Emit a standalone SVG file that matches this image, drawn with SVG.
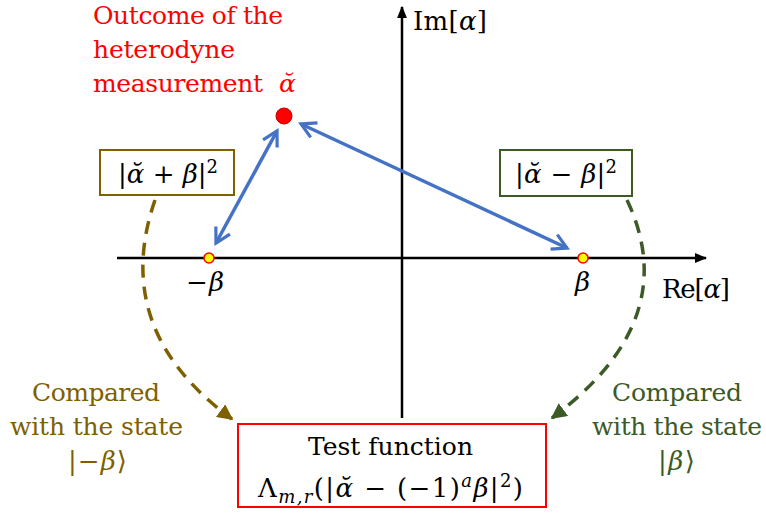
<svg xmlns="http://www.w3.org/2000/svg" width="766" height="513" viewBox="0 0 766 513">
<style>
text{font-family:"DejaVu Serif","Liberation Serif",serif;font-size:25px}
.m{font-size:26px}
.i{font-style:italic}
.red{fill:#ff0000}
.brn{fill:#7f6000}
.grn{fill:#3b5a26}
.axis{stroke:#000;stroke-width:2.5;fill:none}
.blue{stroke:#4472c4;stroke-width:3.5;fill:none;marker-start:url(#ba);marker-end:url(#ba)}
.pt{fill:#ffff00;stroke:#ff0000;stroke-width:1.5}
</style>
<defs>
<marker id="ax" viewBox="0 0 10 10" refX="9" refY="5" markerWidth="5" markerHeight="5" orient="auto" markerUnits="strokeWidth"><path d="M0,1 L10,5 L0,9 Z" fill="#000"/></marker>
<marker id="ba" viewBox="0 0 12 12" refX="10" refY="6" markerWidth="5.5" markerHeight="5.5" orient="auto-start-reverse" markerUnits="strokeWidth"><path d="M1,1 L10,6 L1,11" fill="none" stroke="#4472c4" stroke-width="2"/></marker>
<marker id="bra" viewBox="0 0 10 10" refX="9" refY="5" markerWidth="4.5" markerHeight="4.5" orient="auto" markerUnits="strokeWidth"><path d="M0,0 L10,5 L0,10 Z" fill="#7f6000"/></marker>
<marker id="gra" viewBox="0 0 10 10" refX="9" refY="5" markerWidth="4.5" markerHeight="4.5" orient="auto" markerUnits="strokeWidth"><path d="M0,0 L10,5 L0,10 Z" fill="#3b5a26"/></marker>
</defs>
<g id="axes">
<line class="axis" x1="402" y1="418" x2="402" y2="7" marker-end="url(#ax)"/>
<line class="axis" x1="117" y1="258" x2="706" y2="258" marker-end="url(#ax)"/>
<text class="m" x="413" y="30" textLength="74">Im[<tspan class="i">α</tspan>]</text>
<text class="m" x="662" y="298" textLength="68">Re[<tspan class="i">α</tspan>]</text>
<text class="m" x="186" y="291" textLength="38">−<tspan class="i">β</tspan></text>
<text class="m i" x="575" y="291">β</text>
</g>
<g id="connectors">
<line class="blue" x1="277" y1="131" x2="216" y2="243"/>
<line class="blue" x1="301" y1="124" x2="567" y2="248"/>
<path d="M155,200 Q110,330 232,419" fill="none" stroke="#7f6000" stroke-width="3.5" stroke-dasharray="13,9" marker-end="url(#bra)"/>
<path d="M627,200 Q684,320 552,418" fill="none" stroke="#3b5a26" stroke-width="3.5" stroke-dasharray="13,9" marker-end="url(#gra)"/>
</g>
<g id="outcome">
<text class="red" x="93" y="24" textLength="190">Outcome of the</text>
<text class="red" x="93" y="58" textLength="142">heterodyne</text>
<text class="red" x="93" y="92" textLength="170">measurement</text>
<text class="red i" x="279" y="92" font-size="28">ᾰ</text>
<circle cx="284" cy="116" r="8" fill="#ff0000" stroke="#c00000" stroke-width="1"/>
</g>
<g id="minus-beta"><circle class="pt" cx="209" cy="258" r="5"/></g>
<g id="beta"><circle class="pt" cx="583" cy="258" r="5"/></g>
<g id="box-plus">
<rect x="100" y="150" width="134" height="45" fill="#fff" stroke="#7f6000" stroke-width="2"/>
<text class="m" x="118" y="183" textLength="100">|<tspan class="i">ᾰ</tspan> + <tspan class="i">β</tspan>|<tspan dy="-10" font-size="18">2</tspan></text>
</g>
<g id="box-minus">
<rect x="500" y="150" width="132" height="46" fill="#fff" stroke="#3b5a26" stroke-width="2"/>
<text class="m" x="515" y="183" textLength="102">|<tspan class="i">ᾰ</tspan> − <tspan class="i">β</tspan>|<tspan dy="-10" font-size="18">2</tspan></text>
</g>
<g id="test">
<rect x="238" y="424" width="308" height="83" fill="#fff" stroke="#ff0000" stroke-width="2"/>
<text x="308" y="455" textLength="165">Test function</text>
<text class="m" x="258" y="497" textLength="265">Λ<tspan class="i" dy="6" font-size="18">m,r</tspan><tspan dy="-6">(|</tspan><tspan class="i">ᾰ</tspan> − (−1)<tspan class="i" dy="-10" font-size="18">a</tspan><tspan class="i" dy="10">β</tspan>|<tspan dy="-10" font-size="18">2</tspan><tspan dy="10">)</tspan></text>
</g>
<g id="left-label">
<text class="brn" x="32" y="401" textLength="128">Compared</text>
<text class="brn" x="10" y="435" textLength="173">with the state</text>
<text class="brn m" x="68" y="470" textLength="59">|−<tspan class="i">β</tspan>⟩</text>
</g>
<g id="right-label">
<text class="grn" x="612" y="401" textLength="130">Compared</text>
<text class="grn" x="592" y="435" textLength="170">with the state</text>
<text class="grn m" x="658" y="470" textLength="37">|<tspan class="i">β</tspan>⟩</text>
</g>
</svg>
